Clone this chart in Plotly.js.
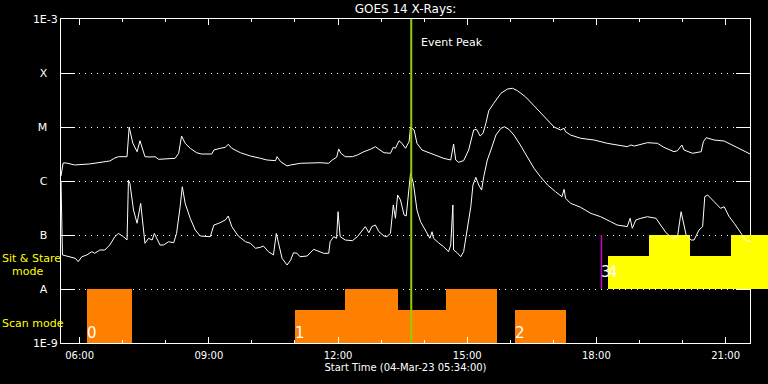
<!DOCTYPE html>
<html><head><meta charset="utf-8">
<script src="https://cdn.plot.ly/plotly-3.0.1.min.js"></script>
<style>html,body{margin:0;padding:0;background:#000;}#chart{width:768px;height:384px;}</style>
</head><body><div id="chart"></div>
<script>
const DAY = "2023-03-04 ";

// GOES 14 long channel (1-8 A), W/m^2
const longTime = ["05:34","05:37","05:41","05:53","06:14","06:35","06:42","06:49","06:54","07:06","07:09","07:14","07:20","07:24","07:27","07:31","07:38","07:45","07:50","08:06","08:13","08:18","08:22","08:27","08:34","08:43","08:50","09:04","09:07","09:16","09:23","09:27","09:32","09:44","09:58","10:12","10:21","10:33","10:35","10:40","10:49","10:54","11:08","11:35","11:47","11:52","11:58","12:01","12:04","12:10","12:20","12:27","12:36","12:45","12:52","12:57","13:04","13:13","13:17","13:20","13:25","13:29","13:34","13:39","13:41","13:46","13:50","13:57","14:09","14:18","14:27","14:37","14:39","14:41","14:44","14:48","14:55","15:02","15:09","15:13","15:18","15:22","15:26","15:30","15:37","15:47","15:56","16:03","16:10","16:21","16:33","16:47","17:01","17:10","17:15","17:17","17:24","17:38","17:57","18:15","18:34","18:43","18:48","18:53","19:11","19:25","19:34","19:48","19:53","19:59","20:02","20:14","20:26","20:29","20:33","20:44","20:58","21:12","21:26","21:35"];
const longFlux = [1.24e-6,2.16e-6,2.16e-6,1.98e-6,2.07e-6,2.25e-6,2.35e-6,2.67e-6,2.82e-6,2.82e-6,1.0e-5,5.05e-6,3.49e-6,5.57e-6,4.32e-6,2.82e-6,2.78e-6,2.82e-6,2.52e-6,2.63e-6,2.63e-6,3.26e-6,6.81e-6,4.99e-6,4.03e-6,3.34e-6,3.16e-6,3.16e-6,3.75e-6,4.03e-6,4.21e-6,4.79e-6,4.03e-6,3.34e-6,2.90e-6,2.63e-6,2.45e-6,2.38e-6,2.82e-6,2.28e-6,1.90e-6,1.98e-6,2.13e-6,2.18e-6,2.13e-6,2.45e-6,2.75e-6,3.92e-6,3.26e-6,2.82e-6,2.82e-6,3.03e-6,3.49e-6,3.86e-6,4.32e-6,3.86e-6,3.34e-6,3.26e-6,4.21e-6,4.03e-6,5.57e-6,4.99e-6,4.03e-6,5.34e-6,1.0e-5,8.80e-6,4.99e-6,3.75e-6,3.26e-6,2.90e-6,2.63e-6,2.45e-6,3.26e-6,4.84e-6,2.45e-6,2.22e-6,2.38e-6,3.75e-6,8.80e-6,9.06e-6,6.81e-6,7.64e-6,1.17e-5,2.0e-5,2.75e-5,4.21e-5,5.05e-5,5.21e-5,4.70e-5,3.64e-5,2.48e-5,1.55e-5,1.0e-5,8.80e-6,9.46e-6,8.19e-6,7.11e-6,6.18e-6,5.74e-6,4.99e-6,4.45e-6,4.32e-6,4.64e-6,4.45e-6,5.12e-6,4.99e-6,4.21e-6,3.49e-6,3.64e-6,4.64e-6,3.75e-6,3.26e-6,3.49e-6,5.34e-6,6.34e-6,5.74e-6,5.50e-6,4.45e-6,3.49e-6,3.12e-6];

// GOES 14 short channel (0.5-4 A), W/m^2
const shortTime = ["05:34","05:35","05:36","05:40","05:47","05:54","05:58","06:03","06:10","06:17","06:21","06:28","06:35","06:42","06:49","06:54","07:01","07:06","07:08","07:10","07:15","07:20","07:25","07:28","07:31","07:36","07:41","07:44","07:48","07:52","07:57","08:04","08:11","08:15","08:20","08:23","08:27","08:34","08:41","08:48","09:02","09:07","09:14","09:23","09:27","09:32","09:41","09:51","09:58","10:05","10:12","10:16","10:23","10:30","10:34","10:37","10:42","10:49","10:54","10:58","11:03","11:07","11:17","11:26","11:33","11:40","11:47","11:49","11:54","11:58","12:00","12:03","12:10","12:20","12:27","12:34","12:38","12:43","12:47","12:52","12:57","13:04","13:08","13:13","13:17","13:20","13:23","13:27","13:32","13:35","13:38","13:41","13:45","13:50","13:55","14:02","14:08","14:11","14:13","14:20","14:27","14:34","14:37","14:40","14:41","14:46","14:51","14:55","15:00","15:05","15:08","15:12","15:16","15:20","15:23","15:28","15:33","15:40","15:47","15:52","15:58","16:05","16:14","16:24","16:33","16:42","16:52","17:03","17:12","17:15","17:17","17:24","17:38","17:52","18:06","18:20","18:29","18:43","18:47","18:50","18:55","19:02","19:11","19:23","19:30","19:37","19:46","19:53","19:58","20:01","20:05","20:12","20:16","20:23","20:28","20:31","20:35","20:44","20:53","20:58","21:05","21:12","21:21","21:28","21:35"];
const shortFlux = [1.0e-6,2.25e-7,4.27e-8,4.14e-8,3.86e-8,3.70e-8,3.21e-8,3.96e-8,4.27e-8,4.91e-8,4.58e-8,5.27e-8,5.27e-8,6.53e-8,9.31e-8,1.07e-7,9.31e-8,8.07e-8,1.04e-6,9.06e-7,2.90e-7,1.65e-7,3.86e-7,1.43e-7,7.02e-8,8.69e-8,8.07e-8,1.07e-7,8.07e-8,6.53e-8,6.53e-8,7.52e-8,7.19e-8,1.07e-7,3.34e-7,7.83e-7,3.86e-7,2.04e-7,1.24e-7,9.58e-8,9.31e-8,1.53e-7,1.65e-7,1.90e-7,2.25e-7,1.43e-7,9.58e-8,7.52e-8,7.02e-8,5.68e-8,5.92e-8,6.25e-8,4.91e-8,4.27e-8,1.07e-7,7.02e-8,3.70e-8,2.78e-8,3.44e-8,4.70e-8,4.58e-8,3.96e-8,4.08e-8,5.43e-8,4.91e-8,4.58e-8,4.58e-8,7.52e-8,9.31e-8,8.69e-8,2.70e-7,9.31e-8,8.07e-8,7.84e-8,9.31e-8,1.24e-7,1.43e-7,1.10e-7,1.43e-7,1.53e-7,1.15e-7,9.58e-8,9.31e-8,1.07e-7,3.60e-7,2.04e-7,5.50e-7,4.45e-7,2.35e-7,2.25e-7,5.92e-7,1.39e-6,9.06e-7,2.90e-7,1.76e-7,1.24e-7,8.69e-8,1.15e-7,8.69e-8,7.19e-8,6.07e-8,4.91e-8,6.53e-8,3.60e-7,5.27e-8,4.70e-8,3.96e-8,4.91e-8,1.24e-7,3.34e-7,8.43e-7,1.17e-6,8.43e-7,6.81e-7,1.20e-6,2.45e-6,3.75e-6,7.11e-6,9.46e-6,1.01e-5,9.06e-6,7.11e-6,4.64e-6,2.82e-6,1.72e-6,1.20e-6,8.43e-7,6.34e-7,5.12e-7,7.02e-7,4.79e-7,3.86e-7,3.26e-7,2.52e-7,2.18e-7,1.76e-7,1.53e-7,1.43e-7,2.04e-7,1.33e-7,1.90e-7,2.04e-7,2.18e-7,2.04e-7,1.53e-7,1.10e-7,8.69e-8,9.31e-8,2.70e-7,1.76e-7,1.0e-7,8.07e-8,8.07e-8,1.24e-7,1.43e-7,5.12e-7,5.50e-7,4.14e-7,3.12e-7,3.34e-7,2.18e-7,1.65e-7,1.07e-7,8.07e-8,7.52e-8];

// Scan mode periods (orange)
const scanStart = ["06:10","11:00","12:10","13:23","14:31","16:06"];
const scanEnd   = ["07:13","12:10","13:23","14:31","15:42","17:17"];
const scanTop   = [1e-8,4.1e-9,1e-8,4.1e-9,1e-8,4.1e-9];
const scanLabelTime = ["06:10","11:00","16:06"];
const scanLabels = ["0","1","2"];

// Sit & Stare periods (yellow)
const sitStart = ["18:16","19:13","20:10","21:07"];
const sitEnd   = ["19:13","20:10","21:07","22:00"];
const sitTop   = [4.1e-8,1e-7,4.1e-8,1e-7];
const sitLabelTime = ["18:07","18:16"];
const sitLabels = ["3","4"];
const sitMarkTime = ["18:07","18:07"];
const sitMarkFlux = [1e-8,1e-7];

const peakTime = ["13:42","13:42"];
const peakFlux = [1e-9,1e-3];

const yTickVals = [1e-9,1e-8,1e-7,1e-6,1e-5,1e-4,1e-3];
const yTickText = ["1E-9","A","B","C","M","X","1E-3"];

function toMs(hm){const p=hm.split(":");return Date.UTC(2023,2,4,+p[0],+p[1]);}
const d = a => a.map(t => DAY + t);

// geometry: axis box 61..750 px, page 768 px wide
const W = 768, L = 61, R = 750;
const plotFrac = (R - L) / (W - L);
const t0 = toMs("05:34"), t1 = toMs("21:34");
const t2 = t0 + (t1 - t0) / plotFrac;   // overlay axis range reaching the page edge

function barTrace(starts, ends, tops, base, color, xa, ya){
  return {type:'bar', x:d(starts), y:tops.map(t=>t-base), base:base,
    width:starts.map((s,i)=>toMs(ends[i])-toMs(s)), offset:0,
    marker:{color:color, line:{width:0}}, hoverinfo:'skip', showlegend:false, xaxis:xa, yaxis:ya};
}

const pad = s => s.length===1 ? s + "\u00a0\u00a0\u00a0" : s;

const traces = [
  barTrace(scanStart, scanEnd, scanTop, 1e-9, '#ff8000', 'x', 'y'),
  barTrace(sitStart, sitEnd, sitTop, 1e-8, '#ffff00', 'x2', 'y2'),
  {type:'scatter', mode:'lines', x:d(longTime), y:longFlux, line:{color:'#ffffff', width:1}, showlegend:false, xaxis:'x2', yaxis:'y2'},
  {type:'scatter', mode:'lines', x:d(shortTime), y:shortFlux, line:{color:'#ffffff', width:1}, showlegend:false, xaxis:'x2', yaxis:'y2'},
  {type:'scatter', mode:'lines', x:d(sitMarkTime), y:sitMarkFlux, line:{color:'#cc00cc', width:1.5}, showlegend:false, xaxis:'x2', yaxis:'y2'},
  {type:'scatter', mode:'lines', x:d(peakTime), y:peakFlux, line:{color:'#99cc00', width:2}, showlegend:false, xaxis:'x2', yaxis:'y2'}
];

const F = 'DejaVu Sans';
const annotations = [
  {text:'Event Peak', x:DAY+peakTime[0], xref:'x', xanchor:'left', xshift:8, y:0.926, yref:'paper', yanchor:'middle', showarrow:false, font:{family:F,size:11,color:'#fff'}},
  {text:'Sit & Stare', x:0, xref:'paper', xanchor:'left', xshift:-61, y:0.2608, yref:'paper', yanchor:'middle', showarrow:false, font:{family:F,size:11,color:'#ffff00'}},
  {text:'mode', x:0, xref:'paper', xanchor:'left', xshift:-51, y:0.2222, yref:'paper', yanchor:'middle', showarrow:false, font:{family:F,size:11,color:'#ffff00'}},
  {text:'Scan mode', x:0, xref:'paper', xanchor:'left', xshift:-61, y:0.0602, yref:'paper', yanchor:'middle', showarrow:false, font:{family:F,size:11,color:'#ffff00'}}
];
scanLabels.forEach((t,i)=>annotations.push({text:t, x:DAY+scanLabelTime[i], xref:'x', xanchor:'left', xshift:-2, y:0.031, yref:'paper', yanchor:'middle', showarrow:false, font:{family:F,size:15,color:'#fff'}}));
sitLabels.forEach((t,i)=>annotations.push({text:t, x:DAY+sitLabelTime[i], xref:'x', xanchor:'left', xshift:-2, y:0.219, yref:'paper', yanchor:'middle', showarrow:false, font:{family:F,size:15,color:'#fff'}}));

const layout = {
  width:768, height:384,
  paper_bgcolor:'#000', plot_bgcolor:'rgba(0,0,0,0)',
  margin:{l:L, r:0, t:19, b:41},
  barmode:'overlay', bargap:0,
  font:{family:F, color:'#fff'},
  title:{text:'GOES 14 X-Rays:', font:{family:F,size:12,color:'#fff'}, x:(L+R)/2/W, xref:'container', xanchor:'center', y:1-9/384, yref:'container', yanchor:'middle'},
  xaxis:{type:'date', domain:[0, plotFrac], range:[DAY+'05:34', DAY+'21:34'], tick0:DAY+'06:00', dtick:3*3600000, tickformat:'%H:%M',
    ticks:'inside', ticklen:6, tickcolor:'#fff', tickwidth:1, showline:true, linecolor:'#fff', linewidth:1, mirror:'ticks',
    showgrid:false, zeroline:false,
    minor:{dtick:3600000, ticks:'inside', ticklen:3, tickcolor:'#fff', tickwidth:1, showgrid:false},
    tickfont:{family:F,size:10,color:'#fff'}, ticklabelstandoff:3,
    title:{text:'Start Time (04-Mar-23 05:34:00)', font:{family:F,size:10,color:'#fff'}, standoff:3},
    fixedrange:true},
  yaxis:{type:'log', range:[-9,-3], tickmode:'array', tickvals:yTickVals, ticktext:yTickText.map(pad),
    ticks:'inside', ticklen:14, tickcolor:'#fff', tickwidth:1, showline:true, linecolor:'#fff', linewidth:1, mirror:'ticks',
    showgrid:true, gridcolor:'#fff', gridwidth:1, griddash:'1px,5px', zeroline:false,
    tickfont:{family:F,size:11,color:'#fff'}, fixedrange:true},
  xaxis2:{type:'date', domain:[0,1], range:[t0, t2], anchor:'y2', visible:false, fixedrange:true},
  yaxis2:{type:'log', range:[-9,-3], anchor:'x2', visible:false, fixedrange:true},
  annotations:annotations
};

Plotly.newPlot('chart', traces, layout, {displayModeBar:false, staticPlot:true});
</script></body></html>
